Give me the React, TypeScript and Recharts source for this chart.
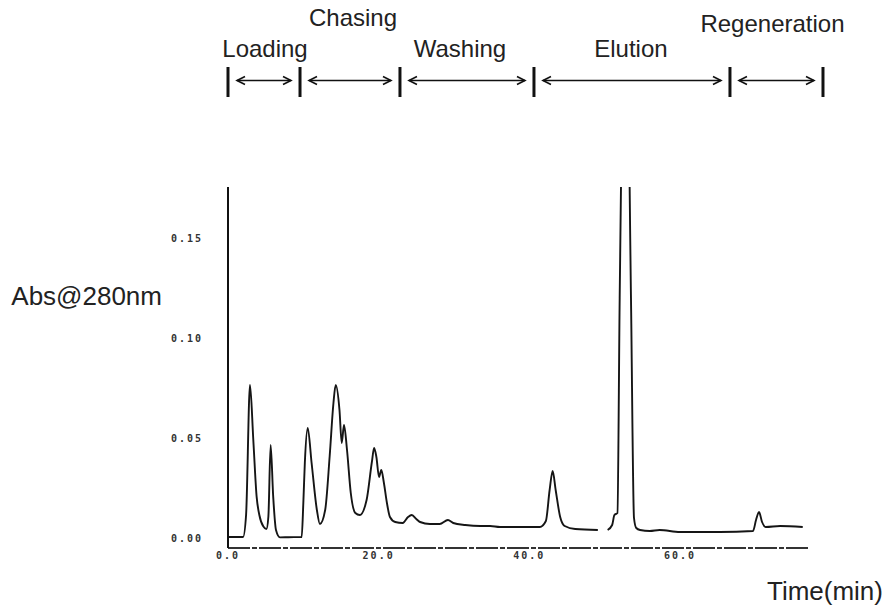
import React from 'react';
import { LineChart, Line, XAxis, YAxis, ReferenceLine, Label } from 'recharts';

// Time (min) and absorbance
const times = [
  0, 2.0, 2.4, 2.92, 3.36, 3.8, 4.16, 4.7, 5.1, 5.36, 5.66, 6.0, 6.37, 6.9, 8.0,
  9.78, 10.0, 10.2, 10.58, 11.1, 11.8, 12.2, 12.9, 13.5, 14.0, 14.3, 14.8, 15.1,
  15.4, 15.8, 16.3, 16.9, 17.5, 18.4, 19.1, 19.4, 19.7, 20.05, 20.35, 20.7, 21.1,
  21.5, 22.2, 23.2, 23.9, 24.4, 25.0, 25.5, 26.8, 28.1, 29.2, 29.9, 31.5, 33.5,
  34.8, 36.1, 38.8, 41.4, 42.2, 42.7, 43.1, 43.5, 44.1, 44.7, 46.1, 49.1, 49.8,
  50.4, 51.0, 51.3, 51.7, 52.0, 52.8, 53.5, 53.9, 54.2, 54.7, 56.0, 57.3, 60.0,
  65.3, 69.7, 70.1, 70.5, 70.9, 71.4, 73.3, 76.3,
];
const absorbance: (number | null)[] = [
  0.0005, 0.0005, 0.0115, 0.0765, 0.049, 0.0207, 0.0115, 0.0057, 0.0045, 0.0107,
  0.0465, 0.0207, 0.004, 0.0003, 0.0004,
  0.0005, 0.0175, 0.0375, 0.055, 0.0375, 0.014, 0.007, 0.014, 0.041, 0.0675,
  0.0765, 0.064, 0.0475,
  0.0565, 0.044, 0.0225, 0.0125, 0.0115, 0.019, 0.038, 0.045, 0.0405, 0.0305,
  0.034, 0.0275, 0.0175,
  0.0105, 0.008, 0.0075, 0.0105, 0.0115, 0.0095, 0.008, 0.007, 0.007, 0.009,
  0.0075, 0.0065, 0.006,
  0.006, 0.0055, 0.0055, 0.0055, 0.0085, 0.024, 0.0335, 0.024, 0.0105, 0.006,
  0.0045, 0.004, null,
  0.004, 0.0065, 0.0115, 0.0125, 0.12, 0.3, 0.12, 0.01, 0.005, 0.004, 0.0035,
  0.004, 0.003,
  0.003, 0.0035, 0.009, 0.013, 0.008, 0.0055, 0.006, 0.0055,
];

const xTicks = [0, 20, 40, 60];
const yTicks = [0, 0.05, 0.1, 0.15];
const phaseNames = ['Loading', 'Chasing', 'Washing', 'Elution', 'Regeneration'];
const phaseBounds = [0, 9.56, 22.83, 40.62, 66.64, 78.99];

const data = times.map((t, i) => ({ t, abs: absorbance[i] }));

const FONT = '"Liberation Sans", Arial, sans-serif';
const TICK_FONT = '"DejaVu Sans Mono", monospace';
const labelBaseline = [57, 25.5, 57, 57, 32];
const labelDx = [1, 3, -7, -1, -4];

const BarShape = (p: any) => (
  <line x1={p.x1} x2={p.x1} y1={67} y2={97} stroke="#111" strokeWidth={3} />
);

const makePhaseShape = (i: number) => (p: any) => {
  const a = p.x1 + 9;
  const b = p.x2 - 9;
  const y = 80.5;
  const cx = (p.x1 + p.x2) / 2 + labelDx[i];
  return (
    <g>
      <line x1={a} x2={b} y1={y} y2={y} stroke="#111" strokeWidth={1.6} />
      <polyline points={`${a + 8},${y - 4} ${a},${y} ${a + 8},${y + 4}`} fill="none" stroke="#111" strokeWidth={1.6} />
      <polyline points={`${b - 8},${y - 4} ${b},${y} ${b - 8},${y + 4}`} fill="none" stroke="#111" strokeWidth={1.6} />
      <text x={cx} y={labelBaseline[i]} textAnchor="middle" fontFamily={FONT} fontSize={24} fill="#222">
        {phaseNames[i]}
      </text>
    </g>
  );
};

const tickStyle = { fontFamily: TICK_FONT, fontSize: 10, fontWeight: 700, fill: '#333', letterSpacing: 2 };

export default function App() {
  return (
    <div style={{ position: 'absolute', left: 0, top: 0, width: 884, height: 606, background: '#fff' }}>
      <LineChart
        width={884}
        height={606}
        data={data}
        margin={{ top: 187, right: 76, bottom: 28, left: 168 }}
      >
        <XAxis
          dataKey="t"
          type="number"
          domain={[0, 77]}
          ticks={xTicks}
          tickFormatter={(v: number) => v.toFixed(1)}
          allowDataOverflow
          height={30}
          tickLine={false}
          tickSize={0}
          tickMargin={4}
          axisLine={{ stroke: '#333', strokeWidth: 2, strokeDasharray: '22 2 5 2' }}
          tick={tickStyle}
        >
          <Label
            content={(props: any) => {
              const vb = props.viewBox || { x: 228, y: 548, width: 580 };
              return (
                <text x={vb.x + vb.width + 75} y={600} textAnchor="end" fontFamily={FONT} fontSize={26} fill="#222">
                  Time(min)
                </text>
              );
            }}
          />
        </XAxis>
        <YAxis
          type="number"
          domain={[-0.005, 0.1755]}
          ticks={yTicks}
          allowDataOverflow
          tickFormatter={(v: number) => v.toFixed(2)}
          width={60}
          tickLine={false}
          tickSize={0}
          tickMargin={25}
          axisLine={{ stroke: '#111', strokeWidth: 2 }}
          tick={tickStyle}
        >
          <Label
            content={(props: any) => {
              const vb = props.viewBox || { x: 168, y: 187 };
              return (
                <text x={vb.x - 6} y={vb.y + 118} textAnchor="end" fontFamily={FONT} fontSize={26} fill="#222">
                  Abs@280nm
                </text>
              );
            }}
          />
        </YAxis>
        {phaseBounds.map((b, i) => (
          <ReferenceLine key={`bar${i}`} x={b} ifOverflow="visible" shape={BarShape} />
        ))}
        {phaseNames.map((n, i) => (
          <ReferenceLine
            key={`ph${i}`}
            segment={[{ x: phaseBounds[i], y: 0 }, { x: phaseBounds[i + 1], y: 0 }]}
            ifOverflow="visible"
            shape={makePhaseShape(i)}
          />
        ))}
        <Line
          type="monotone"
          dataKey="abs"
          stroke="#151515"
          strokeWidth={1.9}
          dot={false}
          connectNulls={false}
          isAnimationActive={false}
        />
      </LineChart>
    </div>
  );
}
